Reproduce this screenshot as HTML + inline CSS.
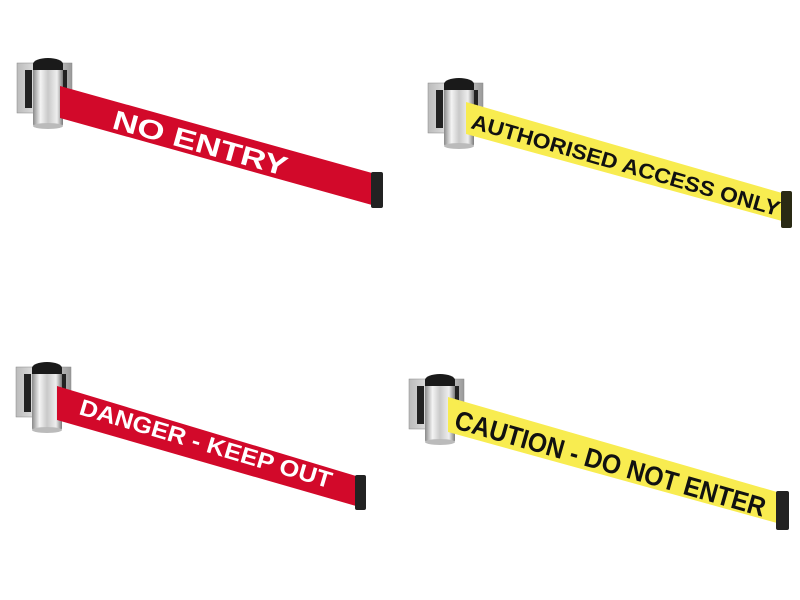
<!DOCTYPE html>
<html><head><style>html,body{margin:0;padding:0;background:#fff;width:800px;height:600px;overflow:hidden}</style></head>
<body>
<svg width="800" height="600" viewBox="0 0 800 600" xmlns="http://www.w3.org/2000/svg" font-family="Liberation Sans, Arial, sans-serif" font-weight="bold">
<defs>
<linearGradient id="chrome" x1="0" x2="1" y1="0" y2="0">
<stop offset="0" stop-color="#8a8a8a"/><stop offset="0.25" stop-color="#f4f4f4"/><stop offset="0.5" stop-color="#c9c9c9"/><stop offset="0.8" stop-color="#eeeeee"/><stop offset="1" stop-color="#7a7a7a"/></linearGradient>
<linearGradient id="plate" x1="0" x2="1"><stop offset="0" stop-color="#bbb"/><stop offset="0.5" stop-color="#eee"/><stop offset="1" stop-color="#999"/></linearGradient>
<g id="post">
<rect x="0" y="5" width="55" height="50" fill="url(#plate)" stroke="#888" stroke-width="0.5"/>
<rect x="8" y="12" width="7" height="38" fill="#222"/>
<rect x="44" y="12" width="6" height="30" fill="#222"/>
<rect x="16" y="5" width="30" height="64" rx="3" fill="url(#chrome)"/>
<ellipse cx="31" cy="6" rx="15" ry="6" fill="#1a1a1a"/>
<rect x="16" y="6" width="30" height="6" fill="#1a1a1a"/>
<ellipse cx="31" cy="68" rx="15" ry="3" fill="#bbb"/>
</g>
</defs>

<use href="#post" x="17" y="58"/>
<polygon points="60,86 372,173 372,205 60,118" fill="#d2092a"/>
<rect x="371" y="172" width="12" height="36" rx="2" fill="#222"/>
<text x="0" y="0" fill="#fff" font-size="27" transform="translate(111,128) rotate(15.5)" textLength="180" lengthAdjust="spacingAndGlyphs">NO ENTRY</text>

<use href="#post" x="428" y="78"/>
<polygon points="466,102 782,193 782,221 466,134" fill="#f8ec50"/>
<rect x="781" y="191" width="11" height="37" rx="2" fill="#2a2a14"/>
<text x="0" y="0" fill="#111" font-size="21" transform="translate(470,128) rotate(16)" textLength="320" lengthAdjust="spacingAndGlyphs">AUTHORISED ACCESS ONLY</text>

<use href="#post" x="16" y="362"/>
<polygon points="57,386 356,476 356,506 57,420" fill="#d2092a"/>
<rect x="355" y="475" width="11" height="35" rx="2" fill="#222"/>
<text x="0" y="0" fill="#fff" font-size="23" transform="translate(78,414) rotate(16.5)" textLength="262" lengthAdjust="spacingAndGlyphs">DANGER - KEEP OUT</text>

<use href="#post" x="409" y="374"/>
<polygon points="448,397 777,492 777,523 448,432" fill="#f8ec50"/>
<rect x="776" y="491" width="13" height="39" rx="2" fill="#222"/>
<text x="0" y="0" fill="#111" font-size="27" transform="translate(453,428) rotate(16)" textLength="322" lengthAdjust="spacingAndGlyphs">CAUTION - DO NOT ENTER</text>
</svg>
</body></html>
